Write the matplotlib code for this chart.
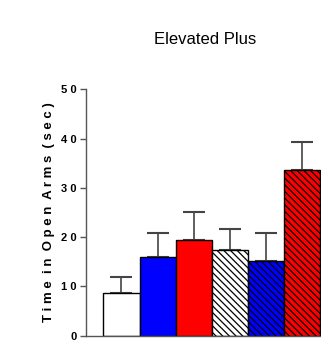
import matplotlib
matplotlib.use("Agg")
import matplotlib.pyplot as plt

# values
groups = ["G1", "G2", "G3", "G4", "G5", "G6"]
means = [8.7, 16.0, 19.4, 17.4, 15.1, 33.7]
sems = [3.3, 4.9, 5.8, 4.3, 5.8, 5.7]
colors = ["white", "#0000ff", "#ff0000", "white", "#0000ff", "#ff0000"]
hatches = ["", "", "", "\\" * 5, "\\" * 5, "\\" * 5]
yticks = [0, 10, 20, 30, 40, 50]

plt.rcParams['font.family'] = ['Liberation Sans', 'DejaVu Sans']
plt.rcParams['hatch.linewidth'] = 0.9

fig = plt.figure(figsize=(3.21, 3.44), dpi=100)
ax = fig.add_axes([0.268, 0.024, 0.732, 0.716])

x = list(range(len(groups)))
bars = ax.bar(x, means, width=1.0, color=colors, edgecolor="black", linewidth=1.0,
              zorder=2)
for b, h in zip(bars, hatches):
    b.set_hatch(h)
ax.errorbar(x, means, yerr=[[0] * len(sems), sems], fmt="none", ecolor="#444444",
            elinewidth=1.2, capsize=8, capthick=1.5, zorder=1)

ax.set_xlim(-0.98, 5.52)
ax.set_ylim(0, 50)
ax.set_xticks([])
ax.set_yticks(yticks)
ax.set_yticklabels([" ".join(str(t)) for t in yticks], fontsize=8, fontweight="bold")
ax.tick_params(axis="y", length=4, width=1, color="#555555", pad=3)
for s in ["top", "right"]:
    ax.spines[s].set_visible(False)
for s in ["left", "bottom"]:
    ax.spines[s].set_color("#555555")
    ax.spines[s].set_linewidth(1.0)

ax.set_ylabel(" ".join("Time in Open Arms (sec)").replace("   ", "  "),
              fontsize=9.5, fontweight="bold", labelpad=4)
fig.text(0.64, 0.885, "Elevated Plus", ha="center", va="center", fontsize=12)

fig.savefig("out.png", dpi=100)
